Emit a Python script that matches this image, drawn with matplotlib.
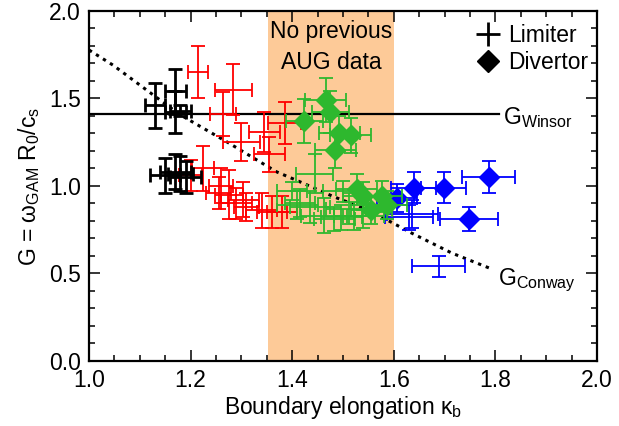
import matplotlib
matplotlib.use("Agg")
import matplotlib.pyplot as plt
from matplotlib.lines import Line2D
from matplotlib.ticker import MultipleLocator, FormatStrFormatter

plt.rcParams['font.family'] = ['Liberation Sans', 'DejaVu Sans']
plt.rcParams['mathtext.fontset'] = 'custom'
plt.rcParams['mathtext.rm'] = 'Liberation Sans'
plt.rcParams['mathtext.it'] = 'Liberation Sans'
plt.rcParams['mathtext.bf'] = 'Liberation Sans:bold'

# ---- data ----
# Limiter, black (crosses)
black_x    = [1.13, 1.17, 1.17, 1.18, 1.15, 1.17, 1.18, 1.19]
black_y    = [1.46, 1.54, 1.42, 1.43, 1.06, 1.08, 1.07, 1.05]
black_xerr = [0.02, 0.02, 0.02, 0.02, 0.03, 0.03, 0.025, 0.03]
black_yerr = [0.13, 0.13, 0.12, 0.03, 0.10, 0.10, 0.10, 0.09]

# Limiter, red (crosses)
red_x    = [1.215, 1.284, 1.264, 1.30, 1.345, 1.355, 1.385,
            1.20, 1.225, 1.255, 1.26, 1.276, 1.29, 1.304, 1.31, 1.34, 1.36, 1.38]
red_y    = [1.65, 1.55, 1.41, 1.25, 1.31, 1.18, 1.36,
            1.06, 1.10, 0.96, 1.00, 0.95, 0.90, 0.92, 0.88, 0.86, 0.85, 0.85]
red_xerr = [0.02, 0.036, 0.025, 0.036, 0.03, 0.03, 0.033,
            0.022, 0.022, 0.025, 0.023, 0.028, 0.03, 0.03, 0.025, 0.03, 0.03, 0.03]
red_yerr = [0.15, 0.145, 0.125, 0.11, 0.115, 0.10, 0.12,
            0.09, 0.13, 0.09, 0.10, 0.14, 0.09, 0.10, 0.08, 0.10, 0.09, 0.09]

# Limiter, green (crosses)
glim_x    = [1.40, 1.41, 1.415, 1.435, 1.444, 1.463, 1.483, 1.497, 1.512, 1.522, 1.54, 1.50]
glim_y    = [0.97, 0.89, 0.90, 0.88, 1.07, 0.83, 0.81, 0.82, 0.87, 0.83, 0.83, 0.97]
glim_xerr = [0.03, 0.04, 0.03, 0.04, 0.037, 0.045, 0.04, 0.04, 0.045, 0.04, 0.04, 0.04]
glim_yerr = [0.05, 0.08, 0.08, 0.09, 0.11, 0.10, 0.07, 0.07, 0.09, 0.08, 0.07, 0.06]

# Divertor, green (diamonds)
gdiv_x    = [1.424, 1.466, 1.475, 1.493, 1.515, 1.485, 1.527, 1.54, 1.576, 1.556, 1.586]
gdiv_y    = [1.37, 1.49, 1.42, 1.30, 1.29, 1.205, 0.98, 0.94, 0.94, 0.86, 0.89]
gdiv_xerr = [0.036, 0.04, 0.037, 0.04, 0.04, 0.041, 0.04, 0.04, 0.04, 0.04, 0.04]
gdiv_yerr = [0.125, 0.125, 0.12, 0.10, 0.10, 0.10, 0.09, 0.08, 0.09, 0.08, 0.08]

# Divertor, blue (diamonds)
bdiv_x    = [1.606, 1.639, 1.698, 1.787, 1.748]
bdiv_y    = [0.93, 0.99, 0.99, 1.05, 0.81]
bdiv_xerr = [0.04, 0.045, 0.045, 0.052, 0.057]
bdiv_yerr = [0.08, 0.09, 0.09, 0.09, 0.07]

# Limiter, blue (crosses)
blim_x    = [1.63, 1.636, 1.688]
blim_y    = [0.82, 0.84, 0.54]
blim_xerr = [0.047, 0.05, 0.052]
blim_yerr = [0.07, 0.08, 0.06]

# reference curves
winsor_x = [1.0, 1.808]
winsor_y = [1.41, 1.41]
conway_x = [1.0, 1.047, 1.14, 1.18, 1.272, 1.337, 1.37, 1.416, 1.483, 1.55, 1.635, 1.714, 1.788]
conway_y = [1.777, 1.691, 1.491, 1.406, 1.251, 1.137, 1.08, 1.023, 0.937, 0.863, 0.731, 0.617, 0.531]

band = (1.353, 1.6)

red = '#FF0000'
green = '#2EB82E'
blue = '#0000FF'
peach = '#FDCA98'
FS = 16.5

fig = plt.figure(figsize=(6.19, 4.26), dpi=100)
ax = fig.add_axes([0.1438, 0.1526, 0.8207, 0.8216])

ax.axvspan(band[0], band[1], color=peach, lw=0, zorder=0)
ax.plot(winsor_x, winsor_y, color='black', lw=1.6, zorder=2)
ax.plot(conway_x, conway_y, color='black', lw=2.2, ls=(0, (1.1, 1.6)), zorder=2)

ekw = dict(fmt='none', elinewidth=1.3, capsize=5, capthick=1.3)
ax.errorbar(red_x, red_y, xerr=red_xerr, yerr=red_yerr, ecolor=red, zorder=3, **ekw)
ax.errorbar(black_x, black_y, xerr=black_xerr, yerr=black_yerr, ecolor='black',
            fmt='none', elinewidth=2.0, capsize=5, capthick=2.0, zorder=3)
ax.errorbar(blim_x, blim_y, xerr=blim_xerr, yerr=blim_yerr, ecolor=blue, zorder=3, **ekw)
ax.errorbar(bdiv_x, bdiv_y, xerr=bdiv_xerr, yerr=bdiv_yerr, ecolor=blue, zorder=3, **ekw)
ax.plot(bdiv_x, bdiv_y, ls='none', marker='D', ms=10.5, color=blue, zorder=4)
ax.errorbar(glim_x, glim_y, xerr=glim_xerr, yerr=glim_yerr, ecolor=green, zorder=5, **ekw)
ax.errorbar(gdiv_x, gdiv_y, xerr=gdiv_xerr, yerr=gdiv_yerr, ecolor=green, zorder=5, **ekw)
ax.plot(gdiv_x, gdiv_y, ls='none', marker='D', ms=10.5, color=green, zorder=6)

ax.set_xlim(1.0, 2.0)
ax.set_ylim(0.0, 2.0)
ax.xaxis.set_major_locator(MultipleLocator(0.2))
ax.xaxis.set_minor_locator(MultipleLocator(0.05))
ax.yaxis.set_major_locator(MultipleLocator(0.5))
ax.yaxis.set_minor_locator(MultipleLocator(0.1))
ax.xaxis.set_major_formatter(FormatStrFormatter('%.1f'))
ax.yaxis.set_major_formatter(FormatStrFormatter('%.1f'))
ax.tick_params(which='both', direction='in', top=True, right=True, labelsize=FS, width=1.1)
ax.tick_params(which='major', length=8, pad=6)
ax.tick_params(which='minor', length=4.3)
for s in ax.spines.values():
    s.set_linewidth(1.6)

ax.set_xlabel('Boundary elongation κ$_\\mathregular{b}$', fontsize=FS, labelpad=1)
ax.set_ylabel('G = ω$_\\mathregular{GAM}$ R$_\\mathregular{0}$/c$_\\mathregular{s}$', fontsize=FS, labelpad=5)

ax.text(1.477, 1.95, 'No previous\nAUG data', ha='center', va='top', fontsize=FS, linespacing=1.45)
ax.text(1.815, 1.39, 'G$_\\mathregular{Winsor}$', ha='left', va='center', fontsize=FS)
ax.text(1.805, 0.46, 'G$_\\mathregular{Conway}$', ha='left', va='center', fontsize=FS)

handles = [Line2D([], [], ls='none', marker='+', ms=17, mew=2, color='black'),
           Line2D([], [], ls='none', marker='D', ms=11, color='black')]
ax.legend(handles, ['Limiter', 'Divertor'], loc='upper right', bbox_to_anchor=(1.015, 1.008),
          frameon=False, fontsize=FS, handlelength=1.0, handletextpad=0.4,
          labelspacing=0.18, borderaxespad=0.3)

fig.savefig('out.png', dpi=100)
